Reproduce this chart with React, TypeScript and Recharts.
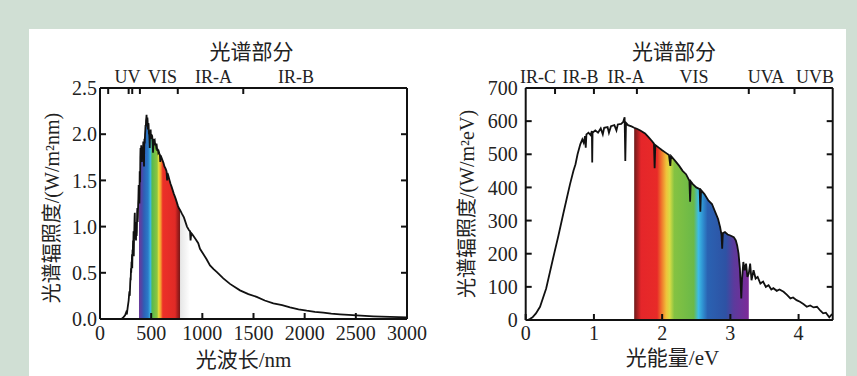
import React from 'react';
import { ComposedChart, Line, Area, XAxis, YAxis } from 'recharts';

// ---------- Data: left panel (spectral irradiance vs wavelength, [nm, W/(m²·nm)]) ----------
const nmSpectrum: [number, number][] = [
  [200, 0], [215, 0.005], [230, 0.02], [245, 0.04], [255, 0.07], [262, 0.05], [270, 0.12], [280, 0.2],
  [284, 0.26], [288, 0.3], [291, 0.25], [295, 0.38], [298, 0.45], [300, 0.42], [303, 0.55], [305, 0.5],
  [308, 0.62], [310, 0.58], [313, 0.7], [315, 0.55], [318, 0.75], [320, 0.7], [323, 0.85], [325, 0.78],
  [328, 0.95], [330, 0.68], [333, 0.9], [335, 0.95], [338, 1.1], [340, 1.15], [343, 0.9], [346, 1.05],
  [348, 1.0], [350, 0.88], [352, 0.85], [354, 1.0], [356, 1.05], [358, 0.9], [360, 0.95], [363, 1.15],
  [365, 1.2], [368, 1.05], [370, 1.1], [373, 1.25], [375, 1.3], [378, 1.45], [381, 1.42], [383, 1.3],
  [385, 1.25], [388, 1.6], [390, 1.5], [392, 1.48], [394, 1.75], [396, 1.85], [398, 1.7], [400, 1.78],
  [403, 1.88], [405, 1.82], [408, 1.75], [410, 1.7], [413, 1.85], [415, 1.86], [418, 1.78], [420, 1.8],
  [423, 1.92], [425, 1.88], [428, 1.75], [430, 1.65], [432, 1.85], [434, 1.95], [437, 1.9], [440, 2.0],
  [443, 2.05], [445, 2.1], [448, 2.08], [450, 2.15], [453, 2.18], [455, 2.21], [457, 2.12], [460, 2.12],
  [463, 2.18], [465, 2.15], [468, 2.05], [470, 2.06], [473, 2.12], [475, 2.1], [478, 2.0], [480, 2.02],
  [483, 1.95], [486, 1.85], [488, 1.96], [490, 2.0], [493, 1.98], [495, 2.05], [498, 1.96], [500, 1.95],
  [505, 1.99], [510, 1.98], [514, 1.92], [518, 1.8], [522, 1.9], [526, 1.95], [530, 1.92], [535, 1.93],
  [540, 1.88], [545, 1.9], [550, 1.86], [555, 1.87], [560, 1.82], [565, 1.84], [570, 1.8], [575, 1.81],
  [580, 1.79], [585, 1.78], [589, 1.7], [592, 1.77], [600, 1.75], [610, 1.72], [620, 1.69], [630, 1.65],
  [640, 1.63], [650, 1.6], [656, 1.5], [659, 1.58], [665, 1.56], [680, 1.5], [690, 1.46], [700, 1.43],
  [720, 1.36], [740, 1.3], [760, 1.23], [770, 1.2], [782, 1.18], [800, 1.14], [820, 1.1], [850, 1.0],
  [870, 0.96], [880, 0.95], [885, 0.85], [892, 0.93], [900, 0.92], [930, 0.87], [960, 0.82], [977, 0.76],
  [1000, 0.72], [1040, 0.65], [1075, 0.58], [1110, 0.54], [1140, 0.51], [1205, 0.44], [1270, 0.38], [1368, 0.31],
  [1450, 0.27], [1531, 0.24], [1610, 0.2], [1694, 0.17], [1780, 0.15], [1857, 0.127], [1940, 0.105], [2020, 0.09],
  [2100, 0.078], [2182, 0.068], [2260, 0.058], [2345, 0.051], [2430, 0.045], [2508, 0.04], [2590, 0.034], [2671, 0.029],
  [2750, 0.025], [2834, 0.022], [2920, 0.02], [3000, 0.018],
];
const nmXTicks = [0, 500, 1000, 1500, 2000, 2500, 3000];
const nmYTicks = [0, 0.5, 1, 1.5, 2, 2.5];
const nmRegionBounds = [80, 280, 315, 390, 760, 1400];
const nmRegionLabels = ['UV', 'VIS', 'IR-A', 'IR-B'];
const nmVisible = [381, 782];
const nmNearIR = [782, 880];

// ---------- Data: right panel (spectral irradiance vs photon energy, [eV, W/(m²·eV)]) ----------
const evSpectrum: [number, number][] = [
  [0.03, 0], [0.06, 3], [0.1, 8], [0.15, 20], [0.21, 40], [0.3, 95], [0.4, 185], [0.48, 255],
  [0.55, 320], [0.6, 365], [0.65, 410], [0.7, 450], [0.73, 470], [0.76, 500], [0.8, 530], [0.83, 545],
  [0.85, 535], [0.87, 555], [0.88, 520], [0.89, 560], [0.92, 565], [0.95, 558], [0.97, 570], [0.975, 475],
  [0.98, 565], [1.02, 572], [1.06, 565], [1.1, 578], [1.13, 560], [1.15, 580], [1.2, 582], [1.22, 565],
  [1.25, 585], [1.3, 588], [1.33, 572], [1.35, 590], [1.4, 592], [1.43, 598], [1.45, 612], [1.46, 480],
  [1.47, 595], [1.5, 588], [1.55, 584], [1.59, 580], [1.63, 577], [1.68, 572], [1.75, 563], [1.8, 552],
  [1.85, 540], [1.88, 532], [1.89, 458], [1.9, 528], [1.95, 520], [2.0, 512], [2.05, 505], [2.1, 498],
  [2.12, 465], [2.13, 495], [2.2, 478], [2.25, 465], [2.3, 450], [2.35, 440], [2.4, 420], [2.41, 357],
  [2.42, 418], [2.45, 410], [2.5, 400], [2.55, 395], [2.56, 327], [2.57, 392], [2.62, 380], [2.68, 360],
  [2.73, 350], [2.78, 325], [2.82, 305], [2.85, 280], [2.87, 258], [2.88, 215], [2.89, 262], [2.92, 265],
  [2.96, 258], [3.0, 255], [3.05, 250], [3.08, 240], [3.1, 225], [3.12, 200], [3.14, 155], [3.15, 110],
  [3.16, 65], [3.17, 120], [3.19, 175], [3.21, 150], [3.23, 170], [3.25, 130], [3.27, 140], [3.29, 170],
  [3.31, 120], [3.34, 150], [3.37, 125], [3.4, 130], [3.44, 110], [3.48, 116], [3.52, 100], [3.56, 105],
  [3.6, 92], [3.63, 96], [3.68, 88], [3.72, 92], [3.78, 85], [3.83, 76], [3.88, 65], [3.92, 68],
  [3.97, 60], [4.02, 55], [4.07, 48], [4.12, 40], [4.17, 44], [4.22, 38], [4.27, 40], [4.32, 28],
  [4.36, 20], [4.4, 22], [4.45, 8], [4.48, 15], [4.5, 18],
];
const evXTicks = [0, 1, 2, 3, 4];
const evYTicks = [0, 100, 200, 300, 400, 500, 600, 700];
const evRegionBounds = [0.43, 1.0, 1.63, 3.27, 3.94];
const evRegionLabels = ['IR-C', 'IR-B', 'IR-A', 'VIS', 'UVA', 'UVB'];
const evVisible = [1.59, 3.27];

const panelTitle = '光谱部分';
const nmXTitle = '光波长/nm';
const evXTitle = '光能量/eV';
const nmYTitle = '光谱辐照度/(W/m²nm)';
const evYTitle = '光谱辐照度/(W/m²eV)';

// ---------- Layout / style ----------
const FONT = "'Liberation Serif', 'Noto Sans CJK SC', serif";
const TEXT = '#222';
const nmLabelX = [127.5, 162.5, 213.5, 296];
const evLabelX = [538, 580.5, 626, 694, 766, 815];
const TICK_LEN = 6;

const nmData = nmSpectrum.map(([x, y]) => ({ x, y }));
const evData = evSpectrum.map(([x, y]) => ({ x, y }));
const nmBand = nmData.filter((d) => d.x >= nmVisible[0] && d.x <= nmVisible[1]);
const nmNear = nmData.filter((d) => d.x >= nmNearIR[0] && d.x <= nmNearIR[1]);
const evBand = evData.filter((d) => d.x >= evVisible[0] && d.x <= evVisible[1]);

const nmStops: [number, string][] = [
  [0, '#6b3a9a'], [0.07, '#4c48a8'], [0.12, '#2f5fb5'], [0.22, '#2a7ac8'], [0.28, '#3cb6e0'],
  [0.32, '#58b94e'], [0.44, '#8cc540'], [0.48, '#e6df3c'], [0.53, '#f59a30'], [0.58, '#ec3028'],
  [0.88, '#e02a26'], [0.95, '#a01c1c'], [1, '#7a1818'],
];
const evStops: [number, string][] = [
  [0, '#6e1a1a'], [0.06, '#e5262a'], [0.2, '#e82a28'], [0.24, '#f0782c'], [0.28, '#f0c23a'],
  [0.31, '#d8dc44'], [0.35, '#84c242'], [0.52, '#6ab948'], [0.56, '#3cbde6'], [0.6, '#2f8fd0'],
  [0.64, '#2a62b2'], [0.8, '#2e52a4'], [0.87, '#5c3a9c'], [1, '#7d2a98'],
];

const axisStroke = { stroke: '#111', strokeWidth: 2 };

type Orient = 'left' | 'right' | 'top' | 'bottom';
// Custom tick: draws an inward tick mark at the axis line plus (optionally) the label.
function makeTick(orient: Orient, margin: number, fmt?: (v: number) => string) {
  return (props: any) => {
    const x = Number(props.x);
    const y = Number(props.y);
    const value = props.payload ? props.payload.value : 0;
    let x1 = x, y1 = y, x2 = x, y2 = y;
    let label: React.ReactNode = null;
    if (orient === 'bottom') {
      y1 = y - margin; y2 = y1 - TICK_LEN;
      if (fmt) label = <text x={x} y={y} dy="0.71em" textAnchor="middle" fill={TEXT} fontSize={20} fontFamily={FONT}>{fmt(value)}</text>;
    } else if (orient === 'top') {
      y1 = y + margin; y2 = y1 + TICK_LEN;
    } else if (orient === 'left') {
      x1 = x + margin; x2 = x1 + TICK_LEN;
      if (fmt) label = <text x={x} y={y} dy="0.36em" textAnchor="end" fill={TEXT} fontSize={20} fontFamily={FONT}>{fmt(value)}</text>;
    } else {
      x1 = x - margin; x2 = x1 - TICK_LEN;
    }
    return (
      <g>
        <path d={`M${x1},${y1}L${x2},${y2}`} stroke="#111" strokeWidth={2} fill="none" />
        {label}
      </g>
    );
  };
}

const abs = (left: number, top: number, extra: React.CSSProperties = {}): React.CSSProperties => ({
  position: 'absolute', left, top, transform: 'translate(-50%, -50%)', whiteSpace: 'nowrap',
  fontFamily: FONT, color: TEXT, lineHeight: 1, ...extra,
});

const fmt1 = (v: number) => v.toFixed(1);
const fmt0 = (v: number) => String(v);

export default function App() {
  return (
    <div style={{ position: 'absolute', left: 0, top: 0, width: 857, height: 376, background: '#d0dfd4', overflow: 'hidden' }}>
      <div style={{ position: 'absolute', left: 29, top: 29, width: 817, height: 347, background: '#fff' }} />

      {/* Left panel */}
      <div style={{ position: 'absolute', left: 0, top: 0 }}>
        <ComposedChart width={430} height={376} margin={{ top: 87, right: 22, bottom: 27, left: 40 }}>
          <defs>
            <linearGradient id="rainbowNm" x1="0" y1="0" x2="1" y2="0">
              {nmStops.map(([o, c]) => <stop key={o} offset={o} stopColor={c} />)}
            </linearGradient>
            <linearGradient id="greyNm" x1="0" y1="0" x2="1" y2="0">
              <stop offset={0} stopColor="#e6e6e6" />
              <stop offset={1} stopColor="#ffffff" />
            </linearGradient>
          </defs>
          <Area xAxisId="b" yAxisId="l" data={nmNear} dataKey="y" type="linear" stroke="none" fill="url(#greyNm)" fillOpacity={1} isAnimationActive={false} />
          <Area xAxisId="b" yAxisId="l" data={nmBand} dataKey="y" type="linear" stroke="none" fill="url(#rainbowNm)" fillOpacity={1} isAnimationActive={false} />
          <Line xAxisId="b" yAxisId="l" data={nmData} dataKey="y" type="linear" stroke="#111" strokeWidth={1.8} dot={false} isAnimationActive={false} />
          <XAxis xAxisId="b" type="number" dataKey="x" domain={[0, 3000]} ticks={nmXTicks} interval={0}
            orientation="bottom" height={30} tickSize={0} tickMargin={7} axisLine={axisStroke} tickLine={false}
            tick={makeTick('bottom', 7, fmt0)} allowDataOverflow />
          <XAxis xAxisId="t" type="number" dataKey="x" domain={[0, 3000]} ticks={nmRegionBounds} interval={0}
            orientation="top" height={1} tickSize={0} tickMargin={4} tick={makeTick('top', 4)} axisLine={axisStroke} tickLine={false} allowDataOverflow />
          <YAxis yAxisId="l" type="number" domain={[0, 2.5]} ticks={nmYTicks} interval={0} width={60}
            tickSize={0} tickMargin={3} axisLine={axisStroke} tickLine={false} tick={makeTick('left', 3, fmt1)} allowDataOverflow />
          <YAxis yAxisId="r" orientation="right" type="number" domain={[0, 2.5]} ticks={nmYTicks} interval={0} width={1}
            tickSize={0} tickMargin={4} tick={makeTick('right', 4)} axisLine={axisStroke} tickLine={false} allowDataOverflow />
        </ComposedChart>
      </div>

      {/* Right panel */}
      <div style={{ position: 'absolute', left: 430, top: 0 }}>
        <ComposedChart width={427} height={376} margin={{ top: 87, right: 23.3, bottom: 26, left: 35.7 }}>
          <defs>
            <linearGradient id="rainbowEv" x1="0" y1="0" x2="1" y2="0">
              {evStops.map(([o, c]) => <stop key={o} offset={o} stopColor={c} />)}
            </linearGradient>
          </defs>
          <Area xAxisId="b" yAxisId="l" data={evBand} dataKey="y" type="linear" stroke="none" fill="url(#rainbowEv)" fillOpacity={1} isAnimationActive={false} />
          <Line xAxisId="b" yAxisId="l" data={evData} dataKey="y" type="linear" stroke="#111" strokeWidth={1.8} dot={false} isAnimationActive={false} />
          <XAxis xAxisId="b" type="number" dataKey="x" domain={[0, 4.5]} ticks={evXTicks} interval={0}
            orientation="bottom" height={30} tickSize={0} tickMargin={6} axisLine={axisStroke} tickLine={false}
            tick={makeTick('bottom', 6, fmt0)} allowDataOverflow />
          <XAxis xAxisId="t" type="number" dataKey="x" domain={[0, 4.5]} ticks={evRegionBounds} interval={0}
            orientation="top" height={1} tickSize={0} tickMargin={4} tick={makeTick('top', 4)} axisLine={axisStroke} tickLine={false} allowDataOverflow />
          <YAxis yAxisId="l" type="number" domain={[0, 700]} ticks={evYTicks} interval={0} width={60}
            tickSize={0} tickMargin={8} axisLine={axisStroke} tickLine={false} tick={makeTick('left', 8, fmt0)} allowDataOverflow />
          <YAxis yAxisId="r" orientation="right" type="number" domain={[0, 700]} ticks={evYTicks} interval={0} width={1}
            tickSize={0} tickMargin={4} tick={makeTick('right', 4)} axisLine={axisStroke} tickLine={false} allowDataOverflow />
        </ComposedChart>
      </div>

      {/* Titles and labels */}
      <div style={abs(251.5, 52, { fontSize: 21 })}>{panelTitle}</div>
      <div style={abs(674, 52, { fontSize: 21 })}>{panelTitle}</div>
      {nmRegionLabels.map((t, i) => <div key={t} style={abs(nmLabelX[i], 77, { fontSize: 18 })}>{t}</div>)}
      {evRegionLabels.map((t, i) => <div key={t} style={abs(evLabelX[i], 77, { fontSize: 18 })}>{t}</div>)}
      <div style={abs(243.5, 360, { fontSize: 21 })}>{nmXTitle}</div>
      <div style={abs(672.5, 358, { fontSize: 21 })}>{evXTitle}</div>
      <div style={abs(52, 208, { fontSize: 20, transform: 'translate(-50%, -50%) rotate(-90deg)' })}>{nmYTitle}</div>
      <div style={abs(467, 204, { fontSize: 20, transform: 'translate(-50%, -50%) rotate(-90deg)' })}>{evYTitle}</div>
    </div>
  );
}
